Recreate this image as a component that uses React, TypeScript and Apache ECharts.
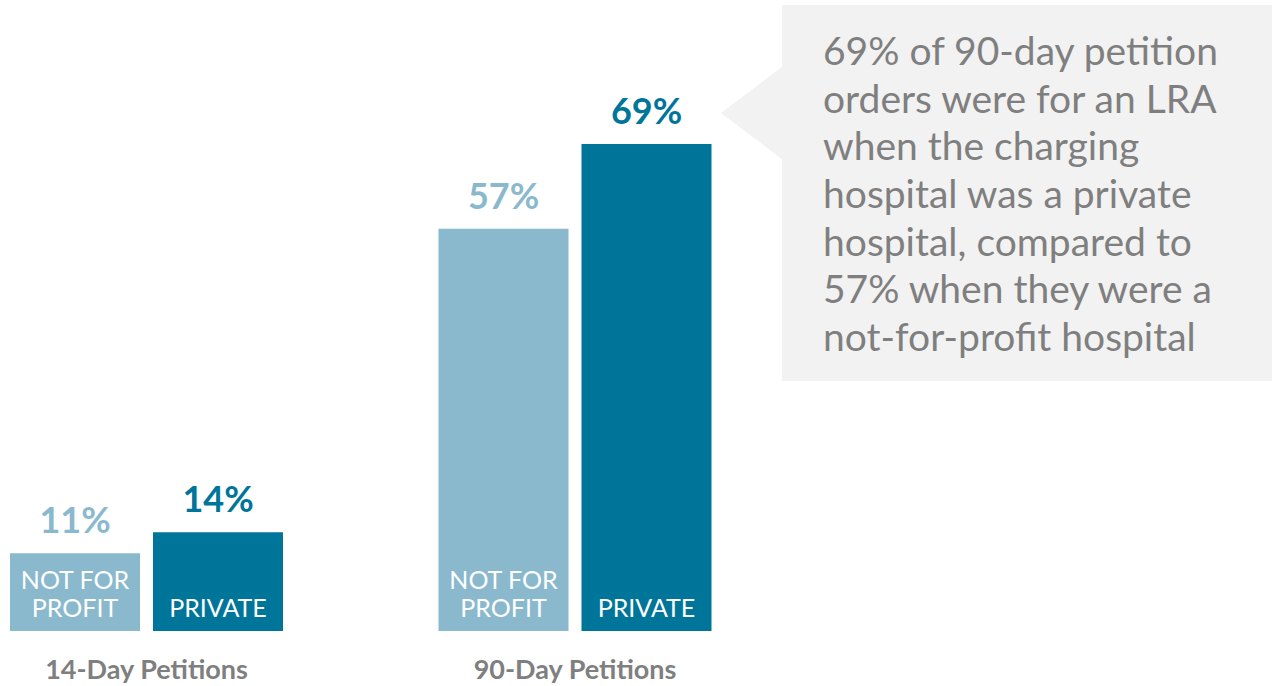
import React, { useEffect, useRef } from "react";
import * as echarts from "echarts";

const categories = ["14-Day Petitions", "90-Day Petitions"];
const notForProfitValues = [11, 57];
const privateValues = [14, 69];
const seriesLabels = ["NOT FOR\nPROFIT", "PRIVATE"];
const calloutLines = [
  "69% of 90-day petition",
  "orders were for an LRA",
  "when the charging",
  "hospital was a private",
  "hospital, compared to",
  "57% when they were a",
  "not-for-profit hospital",
];

const LIGHT = "#8ab9ce";
const DARK = "#00759a";
const GRAY = "#7f7f7f";
const FONT = "Lato, 'Noto Sans', sans-serif";

export default function App() {
  const ref = useRef<HTMLDivElement>(null);
  useEffect(() => {
    if (!ref.current) return;
    const chart = echarts.init(ref.current, null, { renderer: "svg" });
    const valueLabel = (color: string) => ({
      show: true,
      position: "top",
      distance: 16,
      formatter: "{c}%",
      color,
      fontFamily: FONT,
      fontWeight: "bold",
      fontSize: 36,
    });
    const innerLabel = (text: string) => ({
      show: true,
      position: "insideBottom",
      distance: 10,
      formatter: text,
      color: "#ffffff",
      fontFamily: FONT,
      fontSize: 25,
      lineHeight: 28,
      align: "center",
    });
    const xAxisBase = {
      type: "category",
      data: categories,
      boundaryGap: false,
      axisLine: { show: false },
      axisTick: { show: false },
      splitLine: { show: false },
    };
    chart.setOption({
      animation: false,
      backgroundColor: "#ffffff",
      grid: { left: 146.5, right: 697, top: 137, bottom: 55, containLabel: false },
      xAxis: [
        {
          ...xAxisBase,
          axisLabel: {
            show: true,
            margin: 24,
            color: GRAY,
            fontFamily: FONT,
            fontWeight: "bold",
            fontSize: 27,
            interval: 0,
          },
        },
        { ...xAxisBase, show: false },
      ],
      yAxis: { type: "value", min: 0, max: 70, show: false },
      series: [
        {
          type: "bar",
          name: "Not for profit",
          xAxisIndex: 0,
          data: notForProfitValues,
          barWidth: 130,
          barGap: "10%",
          clip: false,
          itemStyle: { color: LIGHT },
          label: valueLabel(LIGHT),
        },
        {
          type: "bar",
          name: "Private",
          xAxisIndex: 0,
          data: privateValues,
          barWidth: 130,
          barGap: "10%",
          clip: false,
          itemStyle: { color: DARK },
          label: valueLabel(DARK),
        },
        {
          type: "bar",
          name: "Not for profit label",
          xAxisIndex: 1,
          data: notForProfitValues,
          barWidth: 130,
          barGap: "10%",
          clip: false,
          itemStyle: { color: "rgba(0,0,0,0)" },
          label: innerLabel(seriesLabels[0]),
        },
        {
          type: "bar",
          name: "Private label",
          xAxisIndex: 1,
          data: privateValues,
          barWidth: 130,
          barGap: "10%",
          clip: false,
          itemStyle: { color: "rgba(0,0,0,0)" },
          label: innerLabel(seriesLabels[1]),
        },
      ],
      graphic: [
        {
          type: "rect",
          shape: { x: 782, y: 5, width: 490, height: 376 },
          style: { fill: "#f2f2f2" },
          silent: true,
        },
        {
          type: "polygon",
          shape: { points: [[721, 113], [783, 66], [783, 160]] },
          style: { fill: "#f2f2f2" },
          silent: true,
        },
        {
          type: "text",
          x: 823,
          y: 26,
          style: {
            text: calloutLines.join("\n"),
            fill: GRAY,
            fontFamily: FONT,
            fontSize: 39,
            lineHeight: 47.7,
            verticalAlign: "top",
          },
          silent: true,
        },
      ],
    });
    return () => chart.dispose();
  }, []);
  return (
    <div
      ref={ref}
      style={{ position: "absolute", left: 0, top: 0, width: 1272, height: 686 }}
    />
  );
}
